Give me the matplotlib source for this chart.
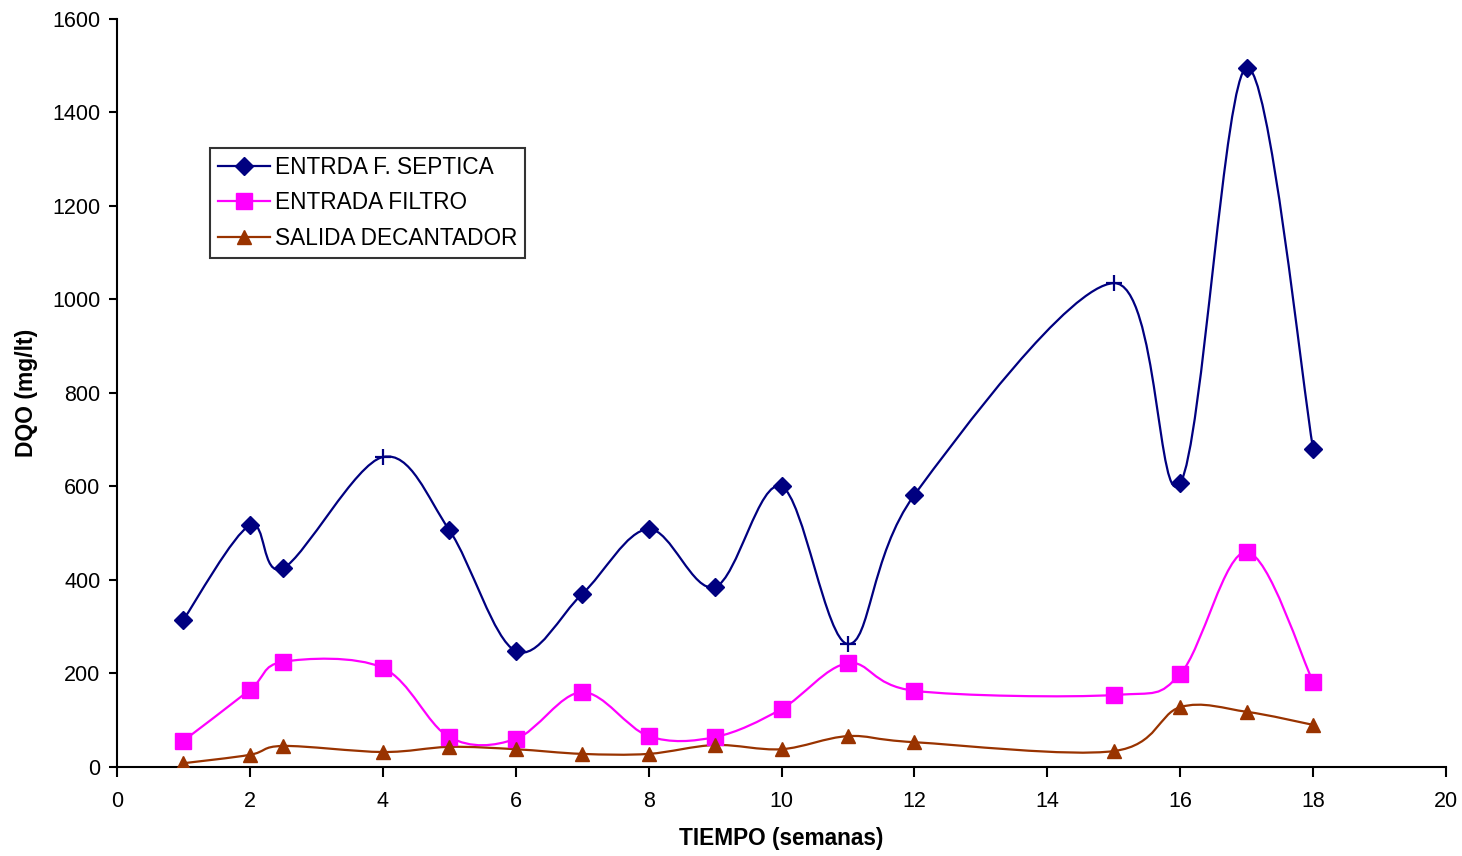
import numpy as np
import matplotlib
matplotlib.use("Agg")
import matplotlib.pyplot as plt
from matplotlib.path import Path
from matplotlib.patches import PathPatch
from matplotlib.lines import Line2D

plt.rcParams['font.family'] = ['Liberation Sans', 'DejaVu Sans']

# Sampling weeks and DQO values (mg/lt)
semanas = [1, 2, 2.5, 4, 5, 6, 7, 8, 9, 10, 11, 12, 15, 16, 17, 18]
entrada_septica = [315, 517, 425, 663, 507, 248, 370, 509, 385, 600, 263, 582, 1035, 607, 1496, 680]
entrada_filtro = [56, 165, 225, 212, 64, 60, 160, 66, 64, 124, 222, 163, 154, 199, 460, 182]
salida_decantador = [8, 26, 45, 32, 43, 38, 28, 28, 47, 38, 66, 53, 34, 128, 118, 90]

nombres = ["ENTRDA F. SEPTICA", "ENTRADA FILTRO", "SALIDA DECANTADOR"]
x_ticks = list(range(0, 21, 2))
y_ticks = list(range(0, 1601, 200))


def smooth_path(x, y):
    """Cubic Bezier path through the points (spreadsheet-style smoothed line)."""
    pts = np.column_stack([np.asarray(x, float), np.asarray(y, float)])
    n = len(pts)
    verts = [pts[0]]
    codes = [Path.MOVETO]
    for i in range(n - 1):
        p0 = pts[max(i - 1, 0)]
        p1 = pts[i]
        p2 = pts[i + 1]
        p3 = pts[min(i + 2, n - 1)]
        c1 = p1 + (p2 - p0) / 6.0
        c2 = p2 - (p3 - p1) / 6.0
        verts += [c1, c2, p2]
        codes += [Path.CURVE4] * 3
    return Path(verts, codes)


fig = plt.figure(figsize=(14.62, 8.56), dpi=100)
ax = fig.add_axes([0.0800, 0.1040, 0.9091, 0.8738])

azul = "#000080"
rosa = "#FF00FF"
cafe = "#993300"
lw = 1.6

for vals, col in [(entrada_septica, azul), (entrada_filtro, rosa), (salida_decantador, cafe)]:
    ax.add_patch(PathPatch(smooth_path(semanas, vals), fill=False, edgecolor=col,
                           linewidth=lw, zorder=2))

# markers of the septic-tank inlet: a few weeks are drawn with a cross
sx = np.array(semanas, float)
sy = np.array(entrada_septica, float)
cruz = np.isin(sx, [4, 11, 15])
ax.plot(sx[~cruz], sy[~cruz], ls='none', marker='D', ms=9, color=azul, zorder=3)
ax.plot(sx[cruz], sy[cruz], ls='none', marker='+', ms=11, mew=1.6, color=azul, zorder=3)
ax.plot(semanas, entrada_filtro, ls='none', marker='s', ms=11, color=rosa, zorder=3)
ax.plot(semanas, salida_decantador, ls='none', marker='^', ms=10, color=cafe, zorder=3)

ax.set_xlim(0, 20)
ax.set_ylim(0, 1600)
ax.set_xticks(x_ticks)
ax.set_yticks(y_ticks)
ax.tick_params(direction='out', width=1.5, labelsize=15.5)
ax.tick_params(axis='x', length=7, pad=10)
ax.tick_params(axis='y', length=6, pad=6)
for s in ['top', 'right']:
    ax.spines[s].set_visible(False)
for s in ['left', 'bottom']:
    ax.spines[s].set_linewidth(1.5)

ax.set_xlabel("TIEMPO (semanas)", fontsize=16.3, fontweight='bold', labelpad=11)
ax.set_ylabel("DQO (mg/lt)", fontsize=16.5, fontweight='bold', labelpad=10)

handles = [
    Line2D([], [], color=azul, lw=lw, marker='D', ms=9),
    Line2D([], [], color=rosa, lw=lw, marker='s', ms=11),
    Line2D([], [], color=cafe, lw=lw, marker='^', ms=10),
]
leg = ax.legend(handles, nombres, loc='upper left', bbox_to_anchor=(0.070, 0.8275),
                borderaxespad=0, fontsize=16.3, frameon=True, fancybox=False,
                edgecolor='black', handlelength=2.3, handletextpad=0.2,
                labelspacing=0.55, borderpad=0.35)
leg.get_frame().set_linewidth(1.5)

fig.savefig("out.png", dpi=100)
